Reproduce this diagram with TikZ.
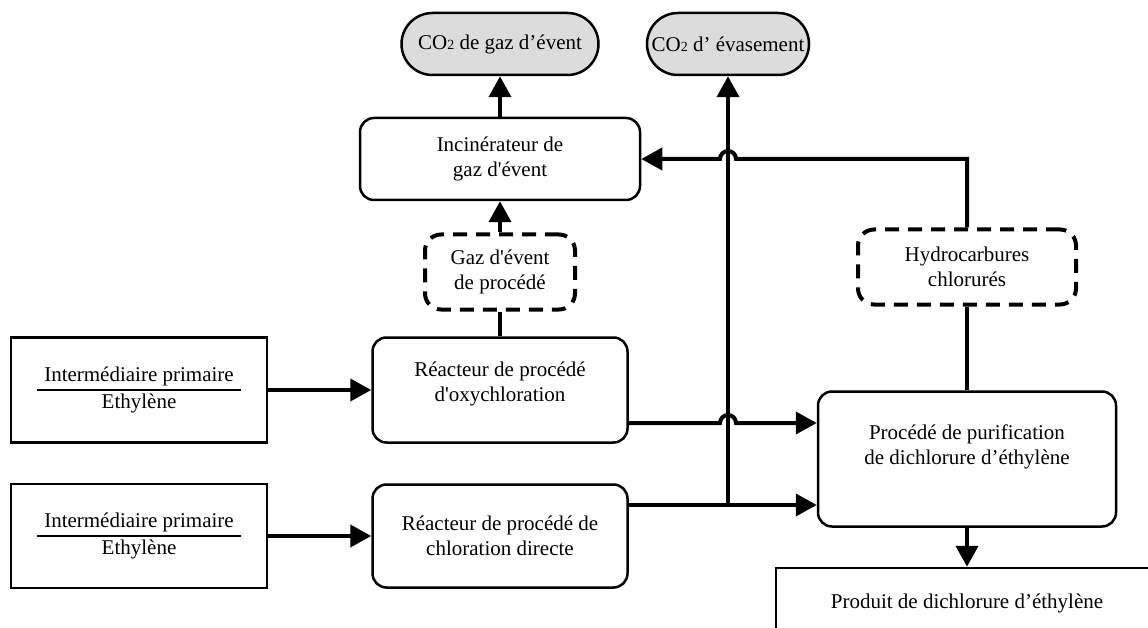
\documentclass[tikz,border=0pt]{standalone}
\usepackage{fontspec}
\setmainfont{Liberation Serif}
\usepackage{xcolor}
\definecolor{pillgray}{RGB}{220,220,220}
\usepackage{tikz}
\usetikzlibrary{arrows.meta,positioning,calc}

\begin{document}
\begin{tikzpicture}[x=1pt,y=-1pt,font=\fontsize{21}{25}\selectfont]
  \tikzstyle{unit}=[rectangle,draw,line width=2.5pt,rounded corners=14pt,align=center,fill=white,inner sep=0pt]
  \tikzstyle{feed}=[rectangle,draw,line width=2.5pt,align=center,fill=white,inner sep=0pt]
  \tikzstyle{stream}=[rectangle,draw,line width=4pt,dash pattern=on 14pt off 9pt,rounded corners=16pt,align=center,inner sep=0pt]
  \tikzstyle{outlet}=[rectangle,draw,line width=2.5pt,rounded corners=31pt,fill=pillgray,minimum height=62pt,inner sep=0pt]
  \tikzstyle{flow}=[line width=4pt,-{Triangle[length=21pt,width=22pt]}]
  \tikzstyle{pipe}=[line width=4pt]
  \setlength{\tabcolsep}{7pt}\setlength{\arrayrulewidth}{1.5pt}
  \useasboundingbox (0,0) rectangle (1148,628);
  % sorties CO2
  \node[outlet,minimum width=197pt] (ventco) at (500,44) {CO{\fontsize{14}{14}\selectfont 2} de gaz d’évent};
  \node[outlet,minimum width=162pt] (flareco) at (728,44) {CO{\fontsize{14}{14}\selectfont 2} d’ évasement};
  \node[unit,minimum width=280pt,minimum height=82pt] (incin) at (500,159) {Incinérateur de\\gaz d\textquotesingle évent};
  \node[stream,minimum width=150pt,minimum height=75pt] (gasvent) at (500,272) {Gaz d\textquotesingle évent\\de procédé};
  % reacteurs
  \node[unit,minimum width=255pt,minimum height=105pt,label={[align=center,yshift=6pt]center:{Réacteur de procédé\\d\textquotesingle oxychloration}}] (oxy) at (500,390) {};
  \node[unit,minimum width=255pt,minimum height=103pt] (chlor) at (500,536) {Réacteur de procédé de\\chloration directe};
  \node[feed,minimum width=256pt,minimum height=105pt] (feedA) at (139,390) {\begin{tabular}{c}Intermédiaire primaire\\\hline Ethylène\end{tabular}};
  \node[feed,minimum width=256pt,minimum height=104pt] (feedB) at (139,536) {\begin{tabular}{c}Intermédiaire primaire\\\hline Ethylène\end{tabular}};
  % purification
  \node[stream,minimum width=218pt,minimum height=75pt] (hydro) at (967,267) {Hydrocarbures\\chlorurés};
  \node[unit,minimum width=298pt,minimum height=135pt,label={[align=center,yshift=12pt]center:{Procédé de purification\\de dichlorure d’éthylène}}] (purif) at (967,459) {};
  \node[feed,minimum width=382pt,minimum height=70pt] (edc) at (967,603) {Produit de dichlorure d’éthylène};
  \coordinate (tee) at (728,505);
  \coordinate (oxyout) at ($(oxy.east)+(0,33)$);
  % connexions
  \draw[flow] (incin.north) -- (ventco.south);
  \draw[flow] (gasvent.north) -- (incin.south);
  \draw[pipe] (oxy.north) -- (gasvent.south);
  \draw[flow] (feedA.east) -- (oxy.west);
  \draw[flow] (feedB.east) -- (chlor.west);
  \draw[flow] (oxyout) -- ($(oxyout -| tee)+(-8,0)$) arc[start angle=180,end angle=360,radius=8] -- (oxyout -| purif.west);
  \draw[flow] (tee -| chlor.east) -- (tee -| purif.west);
  \draw[flow] (tee) -- (flareco.south);
  \draw[pipe] (hydro.south) -- (purif.north);
  \draw[flow] (hydro.north) |- ($(tee |- incin.east)+(8,0)$) arc[start angle=0,end angle=-180,radius=8] -- (incin.east);
  \draw[flow] (purif.south) -- (edc.north);
\end{tikzpicture}
\end{document}
